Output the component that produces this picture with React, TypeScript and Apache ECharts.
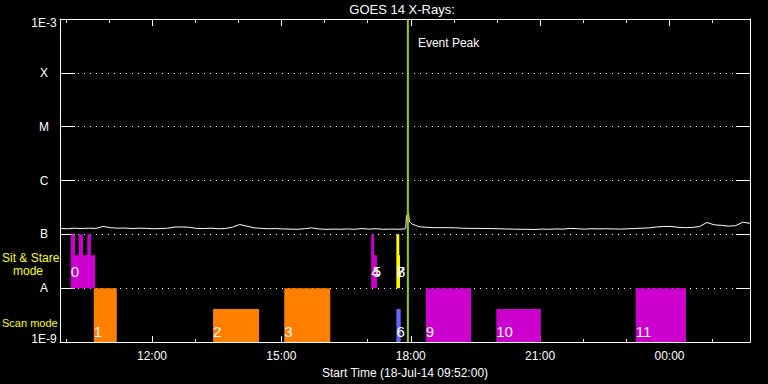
import React, { useEffect, useRef } from "react";
import * as echarts from "echarts";

// ---------- data ----------
const startTime = "09:52";
const endTime = "01:52";
const fluxStepMin = 10; // flux samples every 10 minutes from startTime
// GOES 14 long-channel flux, in units of 1e-7 W/m^2
const fluxValues = [
  1.28, 1.27, 1.3, 1.28, 1.3, 1.29, 1.4, 1.33, 1.3, 1.31, 1.28, 1.3, 1.29, 1.27, 1.28, 1.3,
  1.37, 1.37, 1.35, 1.29, 1.28, 1.3, 1.27, 1.28, 1.36, 1.52, 1.42, 1.32, 1.29, 1.27, 1.28, 1.26,
  1.25, 1.24, 1.27, 1.32, 1.26, 1.24, 1.25, 1.24, 1.26, 1.24, 1.28, 1.25, 1.27, 1.24, 1.25, 1.24,
  1.26, 1.55, 1.38, 1.35, 1.33, 1.33, 1.33, 1.32, 1.3, 1.29, 1.29, 1.28, 1.28, 1.27, 1.26, 1.25,
  1.24, 1.24, 1.23, 1.25, 1.24, 1.26, 1.25, 1.29, 1.27, 1.25, 1.27, 1.26, 1.27, 1.26, 1.25, 1.27,
  1.28, 1.3, 1.32, 1.37, 1.4, 1.4, 1.35, 1.33, 1.34, 1.4, 1.66, 1.5, 1.47, 1.42, 1.45, 1.68, 1.6,
];
// extra samples around the flare
const flareTimes = ["17:53", "17:54", "17:56", "17:57", "17:58", "18:00", "18:06"];
const flareValues = [1.3, 2.15, 2.45, 2.45, 1.75, 1.62, 1.48];

const peakTime = "17:56";

// observation boxes
const obsLabels = ["0", "", "", "", "1", "2", "3", "4", "5", "6", "7", "8", "9", "10", "11"];
const obsStart = ["10:07", "10:07", "10:18", "10:30", "10:39", "13:25", "15:04", "17:05", "17:07", "17:40", "17:40", "17:41", "18:21", "19:59", "23:13"];
const obsEnd = ["10:41", "10:13", "10:24", "10:35", "11:11", "14:29", "16:08", "17:09", "17:13", "17:46", "17:44", "17:45", "19:24", "21:01", "00:23"];
const obsLow = [1e-8, 1e-8, 1e-8, 1e-8, 1e-9, 1e-9, 1e-9, 1e-8, 1e-8, 1e-9, 1e-8, 1e-8, 1e-9, 1e-9, 1e-9];
const obsHigh = [4.1e-8, 1e-7, 1e-7, 1e-7, 1e-8, 4.1e-9, 1e-8, 1e-7, 4.1e-8, 4.1e-9, 1e-7, 4.1e-8, 1e-8, 4.1e-9, 1e-8];
const obsKind = ["m", "m", "m", "m", "o", "o", "o", "m", "m", "b", "y", "y", "m", "m", "m"];

const hourTicks = ["10:00", "11:00", "12:00", "13:00", "14:00", "15:00", "16:00", "17:00", "18:00", "19:00", "20:00", "21:00", "22:00", "23:00", "00:00", "01:00"];
const majorTicks = ["12:00", "15:00", "18:00", "21:00", "00:00"];
const yTickLabels = ["1E-9", "A", "B", "C", "M", "X", "1E-3"]; // 1e-9 .. 1e-3

// ---------- styles ----------
const kindColor: Record<string, string> = { m: "#cc00cc", o: "#ff8000", b: "#6666ff", y: "#ffff00" };
const FONT = "Liberation Sans";

const toMin = (s: string) => {
  const [h, m] = s.split(":").map(Number);
  return (h < 9 ? h + 24 : h) * 60 + m;
};
const fmtMin = (v: number) => {
  const t = Math.round(v) % 1440;
  const h = Math.floor(t / 60);
  const m = t % 60;
  return `${String(h).padStart(2, "0")}:${String(m).padStart(2, "0")}`;
};

export default function App() {
  const ref = useRef<HTMLDivElement>(null);
  useEffect(() => {
    if (!ref.current) return;
    const chart = echarts.init(ref.current, undefined, { renderer: "svg" });
    const t0 = toMin(startTime);
    const t1 = toMin(endTime);

    const fluxPts: [number, number][] = fluxValues.map((v, i) => [t0 + i * fluxStepMin, v * 1e-7]);
    flareTimes.forEach((t, i) => fluxPts.push([toMin(t), flareValues[i] * 1e-7]));
    fluxPts.sort((a, b) => a[0] - b[0]);

    const obsData = obsStart.map((s, i) => [toMin(s), toMin(obsEnd[i]), obsLow[i], obsHigh[i]]);

    const hourVals = hourTicks.map(toMin);
    const majorVals = majorTicks.map(toMin);
    const white = "#ffffff";

    const baseX = {
      type: "value" as const,
      min: t0,
      max: t1,
      splitLine: { show: false },
    };

    chart.setOption({
      animation: false,
      backgroundColor: "#000000",
      grid: { left: 60, right: 18, top: 19, bottom: 41 },
      xAxis: [
        {
          ...baseX,
          position: "bottom",
          axisLine: { show: true, lineStyle: { color: white, width: 1 } },
          axisTick: { show: true, inside: true, length: 6, customValues: majorVals, lineStyle: { color: white } },
          axisLabel: { show: true, customValues: majorVals, formatter: (v: number) => fmtMin(v), color: white, fontSize: 12, fontFamily: FONT, margin: 8 },
          name: `Start Time (18-Jul-14 ${startTime}:00)`,
          nameLocation: "middle",
          nameGap: 25,
          nameTextStyle: { color: white, fontSize: 12, fontFamily: FONT },
        },
        {
          ...baseX,
          position: "bottom",
          axisLine: { show: false },
          axisTick: { show: true, inside: true, length: 3, customValues: hourVals, lineStyle: { color: white } },
          axisLabel: { show: false },
        },
        {
          ...baseX,
          position: "top",
          axisLine: { show: true, lineStyle: { color: white, width: 1 } },
          axisTick: { show: true, inside: true, length: 7, customValues: majorVals, lineStyle: { color: white } },
          axisLabel: { show: false },
        },
        {
          ...baseX,
          position: "top",
          axisLine: { show: false },
          axisTick: { show: true, inside: true, length: 4, customValues: hourVals, lineStyle: { color: white } },
          axisLabel: { show: false },
        },
      ],
      yAxis: [
        {
          type: "log",
          logBase: 10,
          min: 1e-9,
          max: 1e-3,
          interval: 1,
          position: "left",
          axisLine: { show: true, lineStyle: { color: white, width: 1 } },
          axisTick: { show: true, inside: true, length: 15, lineStyle: { color: white } },
          axisLabel: {
            color: white,
            fontSize: 12,
            fontFamily: FONT,
            align: "center",
            margin: 16,
            formatter: (v: number) => {
              const k = Math.round(Math.log10(v)) + 9;
              const t = yTickLabels[k] ?? "";
              if (k === 6) return `{top|${t}}`;
              if (k === 0) return `{bot|${t}}`;
              return t;
            },
            rich: {
              top: { color: white, fontSize: 12, fontFamily: FONT, padding: [8, 0, 0, 0] },
              bot: { color: white, fontSize: 12, fontFamily: FONT, padding: [0, 0, 6, 0] },
            },
          },
          splitLine: { show: true, lineStyle: { color: white, width: 1, type: [1, 5] } },
          minorTick: { show: false },
        },
        {
          type: "log",
          logBase: 10,
          min: 1e-9,
          max: 1e-3,
          interval: 1,
          position: "right",
          axisLine: { show: true, lineStyle: { color: white, width: 1 } },
          axisTick: { show: true, inside: true, length: 14, lineStyle: { color: white } },
          axisLabel: { show: false },
          splitLine: { show: false },
        },
      ],
      series: [
        {
          type: "custom",
          name: "obs",
          xAxisIndex: 0,
          yAxisIndex: 0,
          z: 2,
          encode: { x: [0, 1], y: [2, 3] },
          data: obsData,
          renderItem: (params: any, api: any) => {
            const i = params.dataIndex;
            const pTL = api.coord([api.value(0), api.value(3)]);
            const pBR = api.coord([api.value(1), api.value(2)]);
            const children: any[] = [
              {
                type: "rect",
                z2: 1,
                shape: { x: pTL[0], y: pTL[1], width: pBR[0] - pTL[0], height: pBR[1] - pTL[1] },
                style: { fill: kindColor[obsKind[i]] },
              },
            ];
            if (obsLabels[i]) {
              const sit = api.value(2) >= 1e-8;
              children.push({
                type: "text",
                z2: 50,
                x: pTL[0],
                y: pBR[1] - (sit ? 17 : 10.5),
                style: {
                  text: obsLabels[i],
                  fill: "#ffffff",
                  font: `15px "${FONT}"`,
                  align: "left",
                  verticalAlign: "middle",
                },
              });
            }
            return { type: "group", children };
          },
        },
        {
          type: "line",
          name: "flux",
          xAxisIndex: 0,
          yAxisIndex: 0,
          z: 3,
          showSymbol: false,
          symbol: "none",
          lineStyle: { color: "#ffffff", width: 1 },
          data: fluxPts,
        },
        {
          type: "custom",
          name: "peak",
          xAxisIndex: 0,
          yAxisIndex: 0,
          z: 4,
          encode: { x: 0, y: 1 },
          data: [[toMin(peakTime), 1e-6]],
          renderItem: (params: any, api: any) => {
            const cs = params.coordSys;
            const x = api.coord([api.value(0), api.value(1)])[0];
            return {
              type: "group",
              children: [
                {
                  type: "line",
                  shape: { x1: x, y1: cs.y, x2: x, y2: cs.y + cs.height },
                  style: { stroke: "#99cc00", lineWidth: 2 },
                },
                {
                  type: "text",
                  x: x + 10,
                  y: cs.y + 24,
                  style: { text: "Event Peak", fill: "#ffffff", font: `12px "${FONT}"`, align: "left", verticalAlign: "middle" },
                },
              ],
            };
          },
        },
      ],
      graphic: [
        { type: "text", x: 402, y: 9, style: { text: "GOES 14 X-Rays:", fill: "#ffffff", font: `13px "${FONT}"`, align: "center", verticalAlign: "middle" } },
        { type: "text", x: 2, y: 258, style: { text: "Sit & Stare", fill: "#ffff00", font: `12px "${FONT}"`, align: "left", verticalAlign: "middle" } },
        { type: "text", x: 13, y: 271, style: { text: "mode", fill: "#ffff00", font: `12px "${FONT}"`, align: "left", verticalAlign: "middle" } },
        { type: "text", x: 2, y: 323, style: { text: "Scan mode", fill: "#ffff00", font: `11px "${FONT}"`, align: "left", verticalAlign: "middle" } },
      ],
    });
    return () => chart.dispose();
  }, []);
  return (
    <div
      ref={ref}
      style={{ position: "absolute", left: 0, top: 0, width: 768, height: 384, background: "#000000" }}
    />
  );
}
